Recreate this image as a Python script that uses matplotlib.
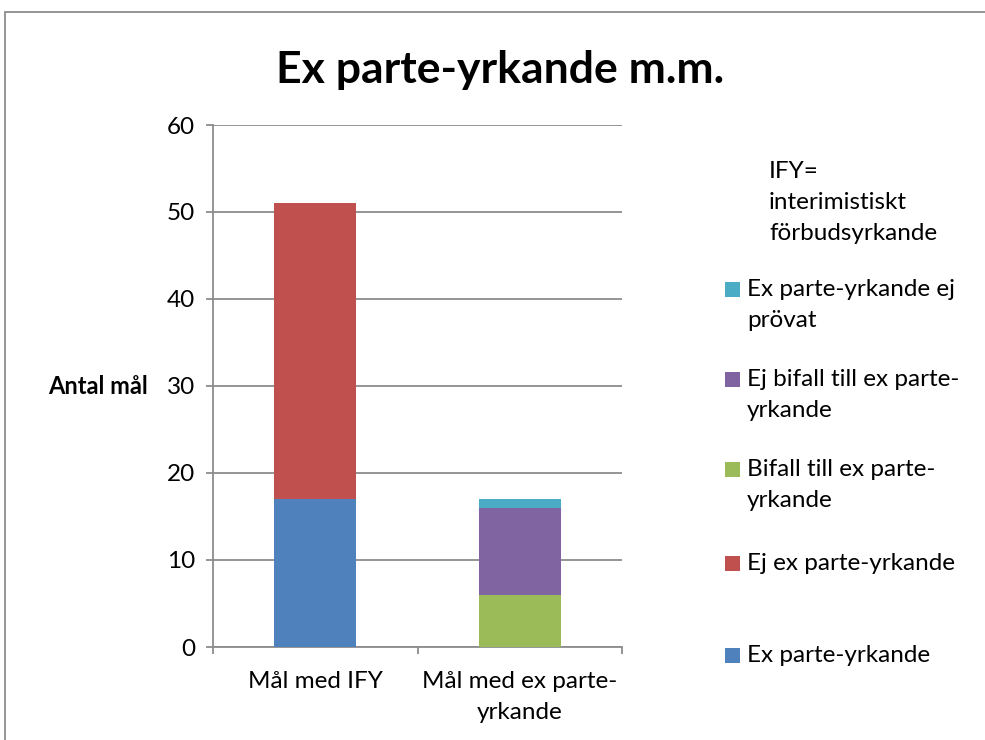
import matplotlib
matplotlib.use("Agg")
import matplotlib.pyplot as plt
from matplotlib.patches import Rectangle

plt.rcParams['font.family'] = ['Lato', 'DejaVu Sans']

categories = ["Mål med IFY", "Mål med ex parte-\nyrkande"]
series_names = ["Ex parte-yrkande", "Ej ex parte-yrkande", "Bifall till ex parte-\nyrkande",
                "Ej bifall till ex parte-\nyrkande", "Ex parte-yrkande ej\nprövat"]
series_values = [
    [17, 0],
    [34, 0],
    [0, 6],
    [0, 10],
    [0, 1],
]
colors = ["#4F81BD", "#C0504D", "#9BBB59", "#8064A2", "#4BACC6"]
yticks = [0, 10, 20, 30, 40, 50, 60]
title = "Ex parte-yrkande m.m."
ylabel = "Antal mål"
note = "IFY=\ninterimistiskt\nförbudsyrkande"

W, H = 985, 740
FS = 17.5
LS = 1.6
fig = plt.figure(figsize=(W / 100, H / 100), dpi=100)
fig.patch.set_facecolor("white")

# outer chart frame (extends past the right/bottom of the image)
fig.add_artist(Rectangle((5 / W, -0.1), 1.2, (H - 12) / H + 0.1, transform=fig.transFigure,
                         fill=False, edgecolor="#8C8C8C", linewidth=1.3))

ax = fig.add_axes([213 / W, 1 - 647 / H, (622 - 213) / W, (647 - 125) / H])
x = list(range(len(categories)))
bottom = [0] * len(categories)
bars = []
for name, vals, c in zip(series_names, series_values, colors):
    b = ax.bar(x, vals, width=0.40, bottom=bottom, color=c, label=name, zorder=3)
    bars.append(b)
    bottom = [bt + v for bt, v in zip(bottom, vals)]

ax.set_xlim(-0.5, len(categories) - 0.5)
ax.set_ylim(0, 60)
ax.set_yticks(yticks)
ax.grid(axis="y", color="#8C8C8C", linewidth=1.3, zorder=0)
for s in ["top", "right"]:
    ax.spines[s].set_visible(False)
for s in ["left", "bottom"]:
    ax.spines[s].set_color("#8C8C8C")
    ax.spines[s].set_linewidth(1.3)
ax.tick_params(axis="y", length=5, width=1.3, color="#8C8C8C", pad=8, labelsize=FS)
ax.set_xticks([-0.5 + i for i in range(len(categories) + 1)])
ax.set_xticklabels([])
ax.tick_params(axis="x", which="major", length=5, width=1.3, color="#8C8C8C")
ax.set_xticks(x, minor=True)
ax.set_xticklabels(categories, minor=True, fontsize=FS, linespacing=LS, va="top")
ax.tick_params(axis="x", which="minor", length=0, pad=17)

fig.text(500 / W, 1 - 70 / H, title, ha="center", va="center", fontsize=32, fontweight="bold")
fig.text(98 / W, 1 - 387 / H, ylabel, ha="center", va="center", fontsize=17, fontweight="bold")

# legend block
fig.text(769 / W, 1 - 161 / H, note, ha="left", va="top", fontsize=FS, linespacing=LS)
legend_order = [4, 3, 2, 1, 0]
first_line_y = [289, 379, 469, 563, 655]
for idx, yy in zip(legend_order, first_line_y):
    fig.add_artist(Rectangle((725 / W, 1 - (yy + 7.5) / H), 15 / W, 15 / H,
                             transform=fig.transFigure, facecolor=colors[idx], edgecolor="none"))
    fig.text(747 / W, 1 - (yy - 10) / H, series_names[idx], ha="left", va="top",
             fontsize=FS, linespacing=LS)

fig.savefig("out.png", dpi=100)
